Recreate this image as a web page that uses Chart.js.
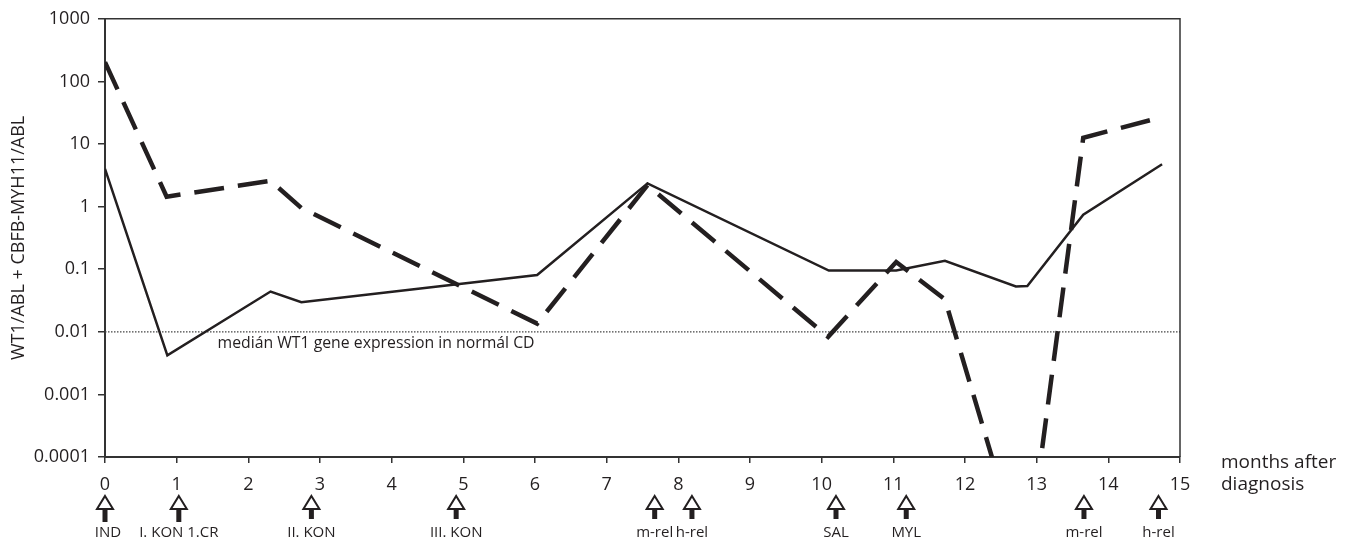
<!DOCTYPE html>
<html><head><meta charset="utf-8">
<script src="https://cdn.jsdelivr.net/npm/chart.js@4.4.1/dist/chart.umd.min.js"></script>
<style>html,body{margin:0;padding:0;background:#fff;}#wrap{width:1355px;height:545px;}</style>
</head><body><div id="wrap"><canvas id="c" width="1355" height="545"></canvas></div>
<script>
// ---- data ----
const monthsWT1 = [0, 0.87, 2.31, 2.74, 6.03, 7.57, 10.1, 11.04, 11.72, 12.71, 12.87, 13.65, 14.75];
const valuesWT1 = [4.0, 0.0042, 0.044, 0.0297, 0.081, 2.35, 0.095, 0.095, 0.136, 0.053, 0.054, 0.74, 4.75];
const monthsCBFB = [0, 0.86, 2.31, 2.74, 6.03, 7.57, 10.09, 11.04, 11.72, 12.85, 13.65, 14.7];
const valuesCBFB = [203, 1.44, 2.58, 0.95, 0.0135, 2.2, 0.0083, 0.13, 0.033, 0.0000015, 12.6, 26];
const normalMedian = 0.01;
const xTickValues = [0,1,2,3,4,5,6,7,8,9,10,11,12,13,14,15];
const yTickValues = [0.0001, 0.001, 0.01, 0.1, 1, 10, 100, 1000];
const yTickLabels = ['0.0001','0.001','0.01','0.1','1','10','100','1000'];
const eventMonths = [0, 1.03, 2.88, 4.9, 7.67, 8.19, 10.2, 11.18, 13.66, 14.7];
const eventLabels = ['IND','I. KON 1.CR','II. KON','III. KON','m-rel','h-rel','SAL','MYL','m-rel','h-rel'];
const yTitle = 'WT1/ABL + CBFB-MYH11/ABL';
const xTitleLines = ['months after','diagnosis'];
const medianLabel = 'medián WT1 gene expression in normál CD';
const medianLabelMonth = 1.57;

const INK = '#231f20';
const FONT = '"Open Sans", "Noto Sans", sans-serif';

const toPts = (xs, ys) => xs.map((x, i) => ({x, y: ys[i]}));

const decor = {
  id: 'decor',
  afterDraw(chart) {
    const ctx = chart.ctx, a = chart.chartArea;
    const xs = chart.scales.x, ys = chart.scales.y;
    ctx.save();
    // frame top and right
    ctx.strokeStyle = '#333'; ctx.lineWidth = 1.5;
    ctx.beginPath();
    ctx.moveTo(a.left, a.top); ctx.lineTo(a.right, a.top); ctx.lineTo(a.right, a.bottom);
    ctx.stroke();
    // median label
    ctx.fillStyle = INK;
    ctx.font = '15.8px ' + FONT;
    ctx.textAlign = 'left'; ctx.textBaseline = 'top';
    ctx.fillText(medianLabel, xs.getPixelForValue(medianLabelMonth), ys.getPixelForValue(normalMedian) + 4);
    // x title
    ctx.font = '19px ' + FONT;
    ctx.textBaseline = 'alphabetic';
    xTitleLines.forEach((t, i) => ctx.fillText(t, a.right + 41, 468 + i * 22));
    // event arrows
    eventMonths.forEach((m, i) => {
      const px = xs.getPixelForValue(m);
      const big = i < 2;
      ctx.fillStyle = INK;
      ctx.fillRect(px - 2.5, 509, 5, big ? 13 : 10);
      ctx.beginPath();
      ctx.moveTo(px, 496); ctx.lineTo(px + 8, 509); ctx.lineTo(px - 8, 509); ctx.closePath();
      ctx.fillStyle = '#fff'; ctx.fill();
      ctx.strokeStyle = INK; ctx.lineWidth = 2; ctx.lineJoin = 'miter'; ctx.stroke();
      ctx.fillStyle = INK;
      ctx.font = '15px "Liberation Sans Narrow", ' + FONT;
      ctx.textAlign = 'center'; ctx.textBaseline = 'middle';
      ctx.fillText(eventLabels[i], px + (i === 0 ? 3 : 0), 533);
    });
    ctx.restore();
  }
};

new Chart(document.getElementById('c'), {
  type: 'scatter',
  data: {
    datasets: [
      { label: 'WT1/ABL', data: toPts(monthsWT1, valuesWT1), showLine: true,
        borderColor: INK, borderWidth: 2.5, pointRadius: 0, borderJoinStyle: 'miter', tension: 0 },
      { label: 'CBFB-MYH11/ABL', data: toPts(monthsCBFB, valuesCBFB), showLine: true,
        borderColor: INK, borderWidth: 4.5, borderDash: [30, 14], borderCapStyle: 'butt',
        pointRadius: 0, borderJoinStyle: 'miter', tension: 0 },
      { label: 'median', data: [{x: xTickValues[0], y: normalMedian}, {x: xTickValues[xTickValues.length-1], y: normalMedian}],
        showLine: true, borderColor: '#444', borderWidth: 1.2, borderDash: [1.5, 1.5], pointRadius: 0 }
    ]
  },
  options: {
    responsive: false, animation: false, devicePixelRatio: 1,
    layout: { padding: { top: 13, right: 175, left: 0, bottom: 0 } },
    plugins: { legend: { display: false }, tooltip: { enabled: false } },
    scales: {
      x: {
        type: 'linear', min: 0, max: 15,
        afterBuildTicks: s => { s.ticks = xTickValues.map(v => ({value: v})); },
        afterFit: s => { s.height = 88; },
        ticks: { color: INK, font: { size: 18, family: FONT }, padding: 11, maxRotation: 0, autoSkip: false,
                 callback: v => String(v) },
        grid: { drawOnChartArea: false, drawTicks: true, tickLength: 6, color: '#333', lineWidth: 1.5 },
        border: { display: true, color: '#333', width: 2 }
      },
      y: {
        type: 'logarithmic', min: 0.0001, max: 1000,
        afterBuildTicks: s => { s.ticks = yTickValues.map(v => ({value: v})); },
        afterFit: s => { s.width = 105; },
        ticks: { color: INK, font: { size: 18, family: FONT }, padding: 8, autoSkip: false,
                 callback: (v, i) => yTickLabels[i] },
        grid: { drawOnChartArea: false, drawTicks: true, tickLength: 7, color: '#333', lineWidth: 1.5 },
        border: { display: true, color: '#333', width: 2 },
        title: { display: true, text: yTitle, color: INK, font: { size: 18, family: FONT }, padding: { top: 8, bottom: 0 } }
      }
    }
  },
  plugins: [decor]
});
</script></body></html>
